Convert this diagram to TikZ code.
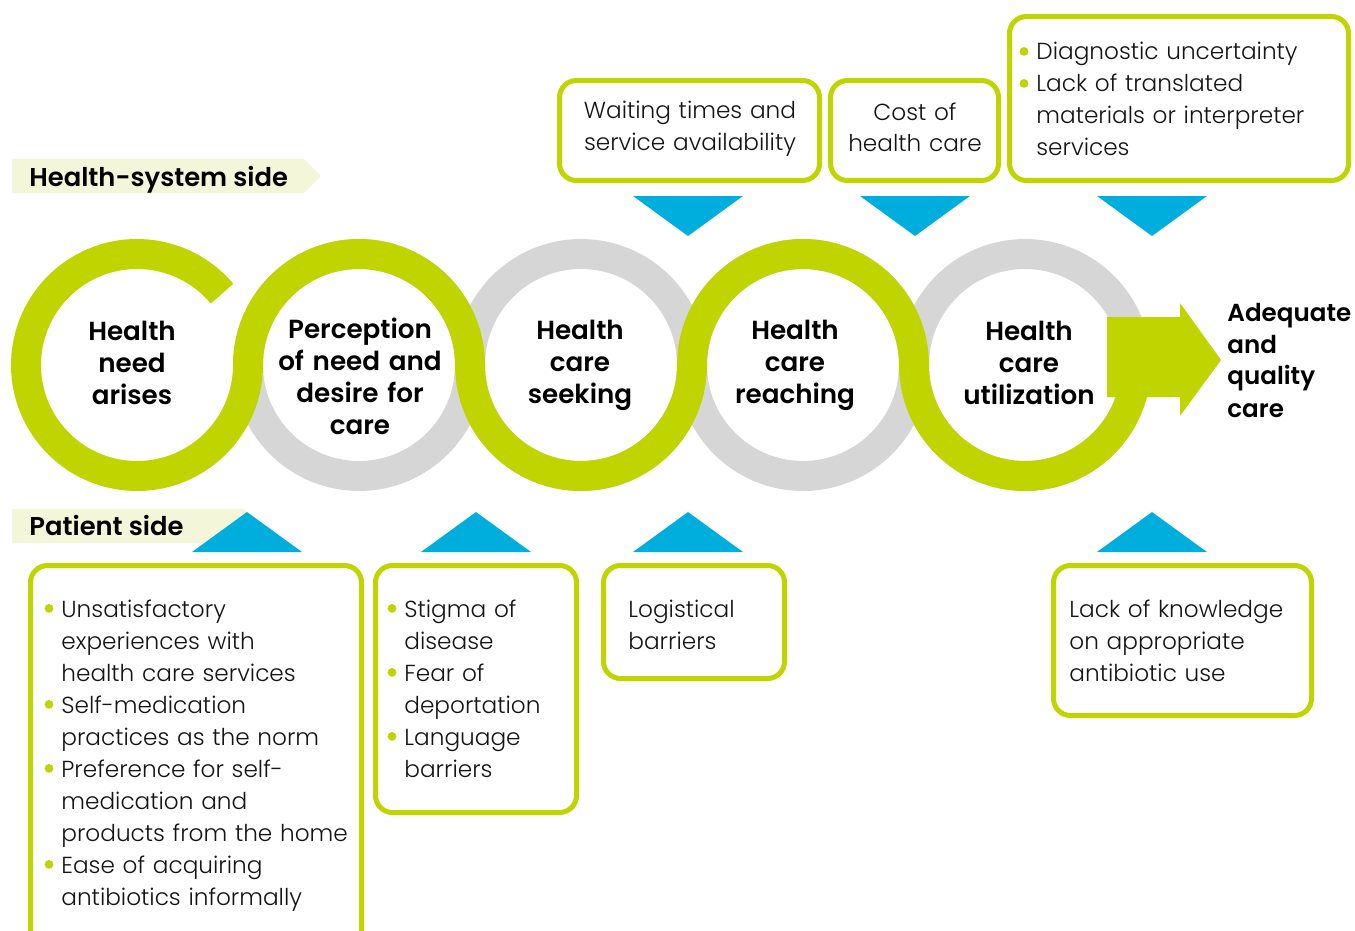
\documentclass[tikz,border=0pt]{standalone}
\usepackage{fontspec}
\setmainfont{Poppins}[UprightFont={Poppins Light}, BoldFont={Poppins SemiBold}]
\definecolor{limegr}{RGB}{192,212,0}
\definecolor{greyc}{RGB}{214,214,214}
\definecolor{bluec}{RGB}{0,174,222}
\definecolor{bandc}{RGB}{243,246,216}
\definecolor{textc}{RGB}{20,20,20}
\newcommand{\bul}{\leavevmode\llap{\tikz[baseline=0pt,x=1pt,y=1pt]\fill[limegr] (0,4.3) circle[radius=2.2];\hspace{4pt}}}
\begin{document}
\begin{tikzpicture}[x=0.5pt,y=-0.5pt,
  ringg/.style={draw=greyc, line width=15pt},
  wave/.style={draw=limegr, line width=15pt},
  factbox/.style={draw=limegr, line width=2.5pt, rounded corners=8.5pt, fill=white},
  tri/.style={fill=bluec},
  band/.style={fill=bandc},
  txt/.style={font=\fontsize{11.6}{16}\selectfont, text=textc, inner sep=0pt, anchor=base west, align=left, text width=175pt},
  ctxt/.style={font=\fontsize{11.6}{16}\selectfont, text=textc, inner sep=0pt, anchor=base, align=center, text width=130pt},
  circtxt/.style={font=\bfseries\fontsize{13.1}{16}\selectfont, text=black, inner sep=0pt, anchor=base, align=center, text width=110pt},
  bandtxt/.style={font=\bfseries\fontsize{12.9}{16}\selectfont, text=black, inner sep=0pt, anchor=base west}]
\clip (0,0) rectangle (1355,931);
\useasboundingbox (0,0) rectangle (1355,931);
% grey rings
\draw[ringg] (359,365) circle[radius=111];
\draw[ringg] (581,365) circle[radius=111];
\draw[ringg] (803,365) circle[radius=111];
\draw[ringg] (1025,365) circle[radius=111];
% green wave
\draw[wave] ([shift={(-40:111)}]137,365)
  arc[start angle=-40, end angle=-360, radius=111]
  arc[start angle=-180, end angle=0, radius=111]
  arc[start angle=180, end angle=0, radius=111]
  arc[start angle=-180, end angle=0, radius=111]
  arc[start angle=180, end angle=10, radius=111];
% big arrow
\fill[limegr] (1107,317) -- (1180,317) -- (1180,303) -- (1221,360) -- (1180,416) -- (1180,397) -- (1107,397) -- cycle;
% circle texts
\node[circtxt] (c1) at (132,340) {Health\\need\\arises};
\node[circtxt] (c2) at (360,338) {Perception\\of need and\\desire for\\care};
\node[circtxt] (c3) at (580,339) {Health\\care\\seeking};
\node[circtxt] (c4) at (795,339) {Health\\care\\reaching};
\node[circtxt] (c5) at (1029,340) {Health\\care\\utilization};
\node[circtxt, font=\bfseries\fontsize{12.3}{16}\selectfont, anchor=base west, align=left, text width=62pt] (goal) at (1227,321) {Adequate\\and\\quality\\care};
% bands
\fill[band] (12,159) -- (304,159) -- (321,176) -- (304,193) -- (12,193) -- cycle;
\node[bandtxt] (hs) at (29,186) {Health-system side};
\fill[band] (12,509) -- (244,509) -- (258,526) -- (244,543) -- (12,543) -- cycle;
\node[bandtxt] (ps) at (29,535) {Patient side};
% triangles top
\fill[tri] (633,196) -- (743,196) -- (688,236) -- cycle;
\fill[tri] (860,196) -- (970,196) -- (915,236) -- cycle;
\fill[tri] (1097,196) -- (1207,196) -- (1152,236) -- cycle;
% triangles bottom
\fill[tri] (192,552) -- (302,552) -- (247,512) -- cycle;
\fill[tri] (421,552) -- (531,552) -- (476,512) -- cycle;
\fill[tri] (633,552) -- (743,552) -- (688,512) -- cycle;
\fill[tri] (1097,552) -- (1207,552) -- (1152,512) -- cycle;
% top boxes
\draw[factbox] (559.5,80.5) rectangle (819.5,180.5);
\node[ctxt] (t1) at (690,119) {Waiting times and\\service availability};
\draw[factbox] (830.5,80.5) rectangle (998.5,180.5);
\node[ctxt] (t2) at (915,120) {Cost of\\health care};
\draw[factbox] (1009.5,16.5) rectangle (1348.5,180.5);
\node[txt] (t3) at (1036,60) {\bul Diagnostic uncertainty\\\bul Lack of translated\\materials or interpreter\\services};
% bottom boxes
\draw[factbox] (30.5,565.5) rectangle (361.5,960);
\node[txt] (b1) at (61,617) {\bul Unsatisfactory\\experiences with\\health care services\\\bul Self-medication\\practices as the norm\\\bul Preference for self-\\medication and\\products from the home\\\bul Ease of acquiring\\antibiotics informally};
\draw[factbox] (375.5,565.5) rectangle (576.5,812.5);
\node[txt] (b2) at (404,617) {\bul Stigma of\\disease\\\bul Fear of\\deportation\\\bul Language\\barriers};
\draw[factbox] (603.5,565.5) rectangle (784.5,678.5);
\node[txt] (b3) at (628,617) {Logistical\\barriers};
\draw[factbox] (1053.5,565.5) rectangle (1311.5,715.5);
\node[txt] (b4) at (1069,617) {Lack of knowledge\\on appropriate\\antibiotic use};
\end{tikzpicture}
\end{document}
